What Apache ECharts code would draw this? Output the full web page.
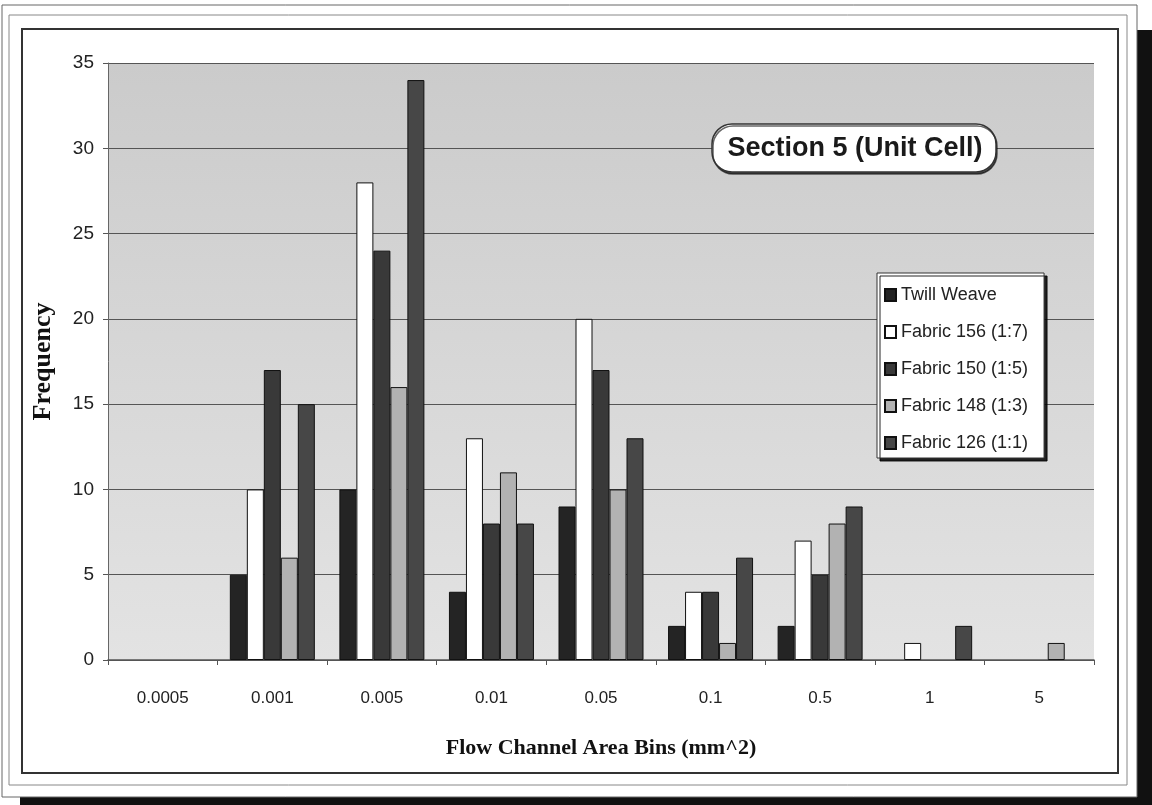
<!DOCTYPE html>
<html>
<head>
<meta charset="utf-8">
<script src="https://cdn.jsdelivr.net/npm/echarts@6/dist/echarts.min.js"></script>
<style>
  html, body { margin: 0; padding: 0; background: #fff; }
  #main { width: 1152px; height: 805px; }
</style>
</head>
<body>
<div id="main"></div>
<script>
// bins on the x axis
const bins = ['0.0005', '0.001', '0.005', '0.01', '0.05', '0.1', '0.5', '1', '5'];

// frequencies
const twillWeave = [0, 5, 10, 4, 9, 2, 2, 0, 0];
const fabric156 = [0, 10, 28, 13, 20, 4, 7, 1, 0];
const fabric150 = [0, 17, 24, 8, 17, 4, 5, 0, 0];
const fabric148 = [0, 6, 16, 11, 10, 1, 8, 0, 1];
const fabric126 = [0, 15, 34, 8, 13, 6, 9, 2, 0];

const seriesNames = ['Twill Weave', 'Fabric 156 (1:7)', 'Fabric 150 (1:5)', 'Fabric 148 (1:3)', 'Fabric 126 (1:1)'];
const seriesData = [twillWeave, fabric156, fabric150, fabric148, fabric126];
const seriesColors = ['#242424', '#ffffff', '#393939', '#b2b2b2', '#474747'];

const chart = echarts.init(document.getElementById('main'), null, { renderer: 'canvas' });

// zero bars get no outline, so nothing shows on the baseline
function toItems(arr) {
  return arr.map(v => v === 0 ? { value: 0, itemStyle: { borderWidth: 0, opacity: 0 } } : v);
}

const option = {
  backgroundColor: '#fff',
  animation: false,
  textStyle: { fontFamily: 'Liberation Sans, Arial, sans-serif' },
  grid: {
    left: 108,
    right: 58,
    top: 63,
    bottom: 145,
    show: true,
    borderWidth: 0,
    backgroundColor: {
      type: 'linear', x: 0, y: 0, x2: 0, y2: 1,
      colorStops: [
        { offset: 0, color: '#cbcbcb' },
        { offset: 1, color: '#e3e3e3' }
      ]
    }
  },
  legend: {
    orient: 'vertical',
    left: 877,
    top: 273,
    padding: [13, 16, 6, 7],
    itemGap: 19,
    itemWidth: 11,
    itemHeight: 12,
    icon: 'rect',
    backgroundColor: '#fff',
    borderColor: '#333',
    borderWidth: 1,
    shadowColor: 'rgba(0,0,0,0.85)',
    shadowOffsetX: 3,
    shadowOffsetY: 3,
    textStyle: { fontSize: 18, color: '#222', fontFamily: 'Liberation Sans, Arial, sans-serif' },
    data: seriesNames
  },
  xAxis: {
    type: 'category',
    data: bins,
    name: 'Flow Channel Area Bins (mm^2)',
    nameLocation: 'middle',
    nameGap: 77,
    nameTextStyle: { fontFamily: 'Liberation Serif, Times New Roman, serif', fontWeight: 'bold', fontSize: 22, color: '#111' },
    axisLine: { lineStyle: { color: '#555', width: 1.5 } },
    axisTick: { show: true, length: 5, lineStyle: { color: '#555' } },
    axisLabel: { fontSize: 17, color: '#222', margin: 30 }
  },
  yAxis: {
    type: 'value',
    min: 0,
    max: 35,
    interval: 5,
    name: 'Frequency',
    nameLocation: 'middle',
    nameGap: 52,
    nameTextStyle: { fontFamily: 'Liberation Serif, Times New Roman, serif', fontWeight: 'bold', fontSize: 26, color: '#111' },
    axisLine: { show: true, lineStyle: { color: '#666', width: 1 } },
    axisTick: { show: true, length: 5, inside: false, lineStyle: { color: '#555' } },
    axisLabel: { fontSize: 19, color: '#222', margin: 14 },
    splitLine: { show: true, lineStyle: { color: '#555', width: 1.2 } }
  },
  series: seriesNames.map((name, i) => ({
    name: name,
    type: 'bar',
    data: toItems(seriesData[i]),
    barWidth: 17,
    barGap: '0%',
    itemStyle: { color: seriesColors[i], borderColor: '#111', borderWidth: 1 }
  })),
  graphic: [
    // page frame with drop shadow
    { type: 'rect', z: -10, shape: { x: 20, y: 30, width: 1132, height: 775 }, style: { fill: '#111' } },
    { type: 'rect', z: -9, shape: { x: 2, y: 5, width: 1135, height: 792 }, style: { fill: '#fff', stroke: '#666', lineWidth: 1 } },
    { type: 'rect', z: -8, shape: { x: 9, y: 15, width: 1118, height: 770 }, style: { fill: '#fff', stroke: '#888', lineWidth: 1 } },
    { type: 'rect', z: -7, shape: { x: 22, y: 29, width: 1096, height: 744 }, style: { fill: '#fff', stroke: '#333', lineWidth: 2 } },
    // title bubble
    {
      type: 'rect', z: 50,
      shape: { x: 712, y: 124, width: 284, height: 48, r: 20 },
      style: { fill: '#fff', stroke: '#333', lineWidth: 1.5, shadowColor: 'rgba(0,0,0,0.6)', shadowOffsetX: 1, shadowOffsetY: 2 }
    },
    {
      type: 'text', z: 51,
      x: 855, y: 149,
      style: {
        text: 'Section 5 (Unit Cell)',
        fontSize: 27,
        fontWeight: 'bold',
        fontFamily: 'Liberation Sans, Arial, sans-serif',
        fill: '#1a1a1a',
        align: 'center',
        verticalAlign: 'middle'
      }
    }
  ]
};

chart.setOption(option);
</script>
</body>
</html>
